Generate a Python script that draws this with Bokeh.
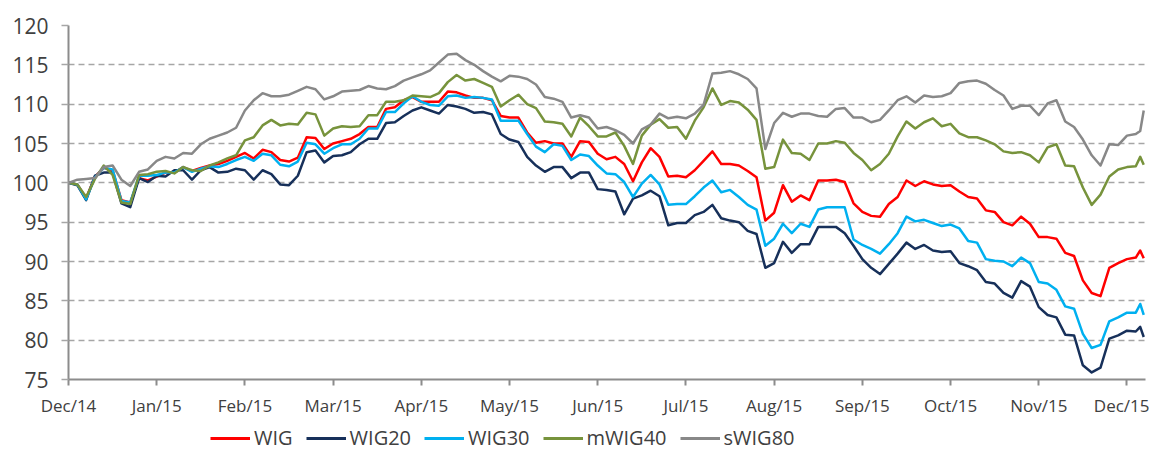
from bokeh.plotting import figure
from bokeh.layouts import column
from bokeh.models import FixedTicker, Legend, LegendItem, ColumnDataSource, Range1d
from bokeh.embed import file_html
from bokeh.resources import INLINE

# x positions: months elapsed since start of Dec/14 (category-like month axis)
month_labels = ["Dec/14", "Jan/15", "Feb/15", "Mar/15", "Apr/15", "May/15", "Jun/15",
                "Jul/15", "Aug/15", "Sep/15", "Oct/15", "Nov/15", "Dec/15"]
t = [i / 10 for i in range(122)] + [12.15, 12.19]

wig = [100, 99.8, 98.0, 100.8, 101.9, 101.6, 97.8, 97.5, 100.6, 100.3,
       100.8, 101.3, 101.3, 102.0, 101.5, 101.9, 102.2, 102.4, 102.8, 103.3,
       103.8, 103.1, 104.2, 103.9, 102.9, 102.7, 103.2, 105.8, 105.7, 104.3,
       105.0, 105.3, 105.6, 106.2, 107.1, 107.1, 109.4, 109.6, 110.5, 110.9,
       110.3, 110.3, 110.3, 111.6, 111.5, 111.1, 110.8, 110.8, 110.5, 108.5,
       108.3, 108.3, 106.4, 105.1, 105.3, 105.0, 105.0, 103.3, 105.3, 105.2,
       103.7, 103.0, 103.3, 102.4, 100.2, 102.6, 104.4, 103.3, 100.8, 100.9,
       100.7, 101.6, 102.8, 104.0, 102.4, 102.4, 102.2, 101.5, 100.7, 95.2,
       96.2, 99.7, 97.6, 98.4, 97.8, 100.3, 100.3, 100.4, 100.1, 97.4,
       96.3, 95.8, 95.7, 97.3, 98.2, 100.3, 99.6, 100.2, 99.8, 99.6,
       99.7, 98.9, 98.2, 98.0, 96.5, 96.3, 95.0, 94.6, 95.7, 94.8,
       93.1, 93.1, 92.9, 91.1, 90.7, 87.6, 86.0, 85.6, 89.2, 89.8,
       90.3, 90.5, 91.4, 90.4]

wig20 = [100, 99.7, 97.8, 100.9, 101.3, 101.3, 97.4, 96.9, 100.6, 100.1,
         100.9, 100.8, 101.6, 101.6, 100.4, 101.6, 102.0, 101.3, 101.4, 101.8,
         101.6, 100.4, 101.6, 101.1, 99.8, 99.7, 100.9, 103.9, 104.1, 102.6,
         103.4, 103.5, 103.9, 104.9, 105.6, 105.6, 107.6, 107.7, 108.5, 109.2,
         109.6, 109.2, 108.8, 109.9, 109.7, 109.4, 108.9, 109.0, 108.7, 106.2,
         105.5, 105.2, 103.3, 102.2, 101.4, 102.0, 102.0, 100.6, 101.3, 101.3,
         99.2, 99.1, 98.9, 96.0, 98.0, 98.4, 99.0, 98.3, 94.6, 94.9,
         94.9, 95.9, 96.3, 97.2, 95.5, 95.2, 95.0, 93.9, 93.5, 89.2,
         89.8, 92.5, 91.1, 92.2, 92.2, 94.4, 94.4, 94.4, 93.6, 92.0,
         90.3, 89.2, 88.4, 89.7, 91.0, 92.4, 91.6, 92.1, 91.4, 91.2,
         91.3, 89.8, 89.4, 88.9, 87.4, 87.2, 86.0, 85.4, 87.5, 86.8,
         84.2, 83.2, 82.9, 80.7, 80.6, 76.8, 75.9, 76.5, 80.2, 80.6,
         81.2, 81.1, 81.7, 80.4]

wig30 = [100, 99.8, 97.9, 100.7, 101.9, 101.7, 97.7, 97.5, 100.9, 100.9,
         101.0, 101.3, 101.3, 102.0, 101.4, 101.8, 102.1, 102.0, 102.4, 102.9,
         103.3, 102.8, 103.7, 103.5, 102.3, 102.1, 102.7, 105.1, 104.9, 103.7,
         104.4, 104.9, 104.9, 105.6, 106.9, 106.9, 109.0, 109.0, 110.1, 111.0,
         110.3, 109.9, 109.8, 111.0, 111.1, 110.8, 110.9, 110.8, 110.6, 107.9,
         107.9, 107.9, 106.2, 104.6, 103.9, 104.9, 104.7, 102.9, 103.6, 103.4,
         102.2, 101.2, 101.1, 100.1, 98.2, 99.9, 101.0, 99.8, 97.2, 97.3,
         97.3, 98.3, 99.4, 100.3, 98.8, 99.1, 98.2, 97.2, 96.6, 92.0,
         92.9, 94.8, 93.6, 94.8, 94.4, 96.6, 96.9, 96.9, 96.9, 92.8,
         92.1, 91.6, 91.0, 92.2, 93.6, 95.7, 95.1, 95.3, 94.9, 94.5,
         94.7, 94.2, 92.6, 92.4, 90.3, 90.1, 90.0, 89.4, 90.5, 89.8,
         87.4, 87.2, 86.4, 84.3, 84.0, 80.8, 79.0, 79.4, 82.4, 82.9,
         83.5, 83.5, 84.6, 83.2]

mwig40 = [100, 99.8, 98.2, 100.5, 102.2, 101.0, 97.5, 97.3, 101.0, 101.1,
          101.4, 101.5, 101.2, 102.0, 101.6, 101.5, 102.2, 102.6, 103.1, 103.5,
          105.4, 105.8, 107.3, 108.0, 107.3, 107.5, 107.4, 108.9, 108.7, 106.0,
          106.9, 107.2, 107.1, 107.2, 108.6, 108.6, 110.3, 110.3, 110.5, 111.1,
          111.0, 110.9, 111.4, 112.8, 113.7, 113.0, 113.2, 112.7, 112.2, 109.7,
          110.5, 111.2, 110.0, 109.5, 107.8, 107.7, 107.5, 105.9, 108.3, 107.2,
          105.9, 105.9, 106.4, 104.7, 102.4, 106.0, 107.4, 108.1, 107.0, 107.1,
          105.6, 107.9, 109.6, 112.0, 109.9, 110.4, 110.2, 109.3, 108.0, 101.8,
          102.0, 105.5, 103.8, 103.7, 102.9, 105.0, 105.0, 105.3, 105.1, 103.8,
          102.9, 101.6, 102.4, 103.7, 105.9, 107.8, 106.9, 107.7, 108.2, 107.2,
          107.5, 106.3, 105.8, 105.8, 105.4, 104.9, 104.0, 103.8, 103.9, 103.5,
          102.6, 104.5, 104.9, 102.2, 102.1, 99.4, 97.2, 98.5, 100.8, 101.7,
          102.0, 102.1, 103.3, 102.3]

swig80 = [100, 100.4, 100.5, 100.6, 102.0, 102.2, 100.4, 99.6, 101.4, 101.7,
          102.8, 103.3, 103.1, 103.8, 103.7, 104.9, 105.6, 106.0, 106.4, 107.0,
          109.2, 110.5, 111.4, 111.0, 111.0, 111.2, 111.7, 112.2, 111.9, 110.6,
          111.0, 111.6, 111.7, 111.8, 112.3, 112.0, 111.9, 112.3, 113.0, 113.4,
          113.8, 114.3, 115.3, 116.3, 116.4, 115.6, 115.0, 114.2, 113.5, 112.9,
          113.6, 113.5, 113.2, 112.5, 110.9, 110.7, 110.3, 108.3, 108.6, 108.3,
          106.9, 107.1, 106.7, 106.1, 105.0, 106.8, 107.4, 108.8, 108.2, 108.4,
          108.2, 108.8, 109.9, 113.9, 114.0, 114.2, 113.8, 113.2, 112.0, 104.3,
          107.6, 108.9, 108.4, 108.8, 108.8, 108.5, 108.4, 109.4, 109.5, 108.3,
          108.3, 107.7, 108.0, 109.2, 110.5, 111.0, 110.2, 111.1, 110.9, 111.0,
          111.4, 112.7, 112.9, 113.0, 112.6, 111.8, 111.1, 109.4, 109.8, 109.8,
          108.6, 110.1, 110.5, 107.8, 107.1, 105.5, 103.5, 102.2, 104.9, 104.8,
          106.0, 106.2, 106.6, 109.2]

series_names = ["WIG", "WIG20", "WIG30", "mWIG40", "sWIG80"]
series_values = [wig, wig20, wig30, mwig40, swig80]
series_colors = ["#FF0000", "#17305A", "#00B0F0", "#77933C", "#888888"]
y_ticks = [75, 80, 85, 90, 95, 100, 105, 110, 115, 120]

W = 1149
p = figure(width=W, height=424, x_range=Range1d(0, 12.21), y_range=Range1d(75, 120),
           output_backend="svg", toolbar_location=None,
           min_border_left=68, min_border_right=4, min_border_top=25, min_border_bottom=45)
p.outline_line_color = None
p.background_fill_color = "white"
p.border_fill_color = "white"

p.xgrid.grid_line_color = None
p.ygrid.grid_line_color = "#A6A6A6"
p.ygrid.grid_line_dash = "6 4"
p.ygrid.grid_line_width = 1.3

p.yaxis.ticker = FixedTicker(ticks=y_ticks)
p.yaxis.axis_line_color = "#8C8C8C"
p.yaxis.axis_line_width = 2
p.yaxis.major_tick_line_color = "#A6A6A6"
p.yaxis.major_tick_line_width = 1.3
p.yaxis.major_tick_out = 7
p.yaxis.major_tick_in = 0
p.yaxis.minor_tick_line_color = None
p.yaxis.major_label_text_font = "Open Sans"
p.yaxis.major_label_text_font_size = "21px"
p.yaxis.major_label_text_color = "#404040"
p.yaxis.major_label_standoff = 13

p.xaxis.ticker = FixedTicker(ticks=list(range(len(month_labels))))
p.xaxis.major_label_overrides = {i: lab for i, lab in enumerate(month_labels)}
p.xaxis.axis_line_color = "#8C8C8C"
p.xaxis.axis_line_width = 2
p.xaxis.major_tick_line_color = "#8C8C8C"
p.xaxis.major_tick_line_width = 2
p.xaxis.major_tick_out = 6
p.xaxis.major_tick_in = 0
p.xaxis.minor_tick_line_color = None
p.xaxis.major_label_text_font = "Open Sans"
p.xaxis.major_label_text_font_size = "17px"
p.xaxis.major_label_text_color = "#404040"
p.xaxis.major_label_standoff = 8

for name, vals, col in zip(series_names, series_values, series_colors):
    src = ColumnDataSource(dict(x=t, y=vals))
    p.line("x", "y", source=src, line_color=col, line_width=2.5, line_join="round")

# legend strip below the chart (its lines lie outside its own range, only the legend shows)
lf = figure(width=W, height=28, x_range=Range1d(0, 1), y_range=Range1d(0, 1),
            output_backend="svg", toolbar_location=None,
            min_border_left=0, min_border_right=0, min_border_top=0, min_border_bottom=0)
lf.axis.visible = False
lf.grid.grid_line_color = None
lf.outline_line_color = None
lf.border_fill_color = "white"
legend_items = []
for name, vals, col in zip(series_names, series_values, series_colors):
    r = lf.line(x=t, y=vals, line_color=col, line_width=3)
    legend_items.append(LegendItem(label=name, renderers=[r]))
legend = Legend(items=legend_items, location=(142, 1), orientation="horizontal",
                glyph_width=40, glyph_height=20, label_standoff=4, spacing=13,
                padding=0, margin=0, border_line_color=None,
                background_fill_alpha=0,
                label_text_font="Open Sans", label_text_font_size="20px",
                label_text_color="#404040", label_height=20)
lf.add_layout(legend, "center")

open("out.html", "w").write(file_html(column(p, lf, spacing=0), INLINE))
